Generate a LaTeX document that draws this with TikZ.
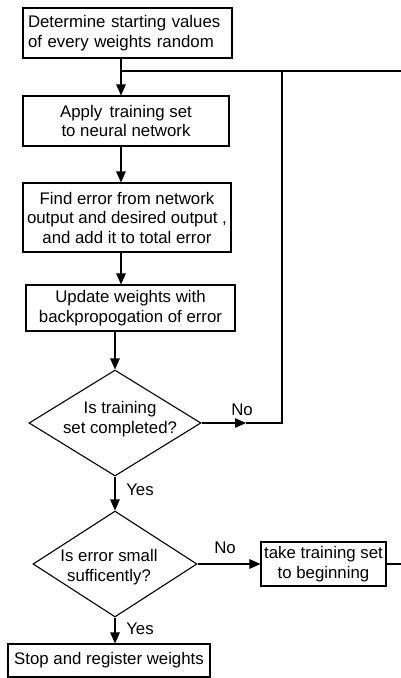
\documentclass[tikz,border=0pt]{standalone}
\usepackage{fontspec}
\setmainfont{Liberation Sans}
\usetikzlibrary{shapes.geometric,arrows.meta}
\begin{document}
\begin{tikzpicture}[x=1pt,y=-1pt,
  every node/.style={font=\fontsize{16.8}{19.5}\selectfont},
  box/.style={draw, line width=1.1pt, inner sep=2pt, align=center},
  dia/.style={draw, diamond, line width=1.1pt, inner sep=0pt},
  con/.style={line width=1.1pt},
  arr/.style={con, -{Triangle[length=11pt,width=9.5pt]}},
  lbl/.style={inner sep=0pt}]
\useasboundingbox (0,0) rectangle (400,678);
\fill[white] (0,0) rectangle (400,678);

% boxes
\node[box, minimum width=209pt, minimum height=50pt, text width=199pt, align=left, inner xsep=5pt] (b1) at (127.5,33)
  {Determine starting values\\of every weights random};
\node[box, minimum width=206pt, minimum height=50pt] (b2) at (126,121)
  {Apply\, training set\\to neural network};
\node[box, minimum width=208pt, minimum height=69pt] (b3) at (127,217.5)
  {Find error from network\\output and desired output ,\\and add it to total error};
\node[box, minimum width=209pt, minimum height=46pt] (b4) at (130.5,308)
  {Update weights with\\backpropogation of error};

% decisions
\node[dia, minimum width=172pt, minimum height=106pt] (d1) at (115,423) {};
\node[lbl, align=center] (t1) at (120,419) {Is training\\set completed?};
\node[dia, minimum width=164pt, minimum height=106pt] (d2) at (115,564) {};
\node[lbl, align=center] (t2) at (109,567) {Is error small\\sufficently?};

\node[box, minimum width=125pt, minimum height=44pt, inner sep=1pt] (tk) at (323.5,564)
  {take training set\\to beginning};
\node[box, minimum width=202pt, minimum height=33pt] (st) at (109,660.5)
  {Stop and register weights};

% labels
\node[lbl] (no1) at (242,410) {No};
\node[lbl] (yes1) at (140,490) {Yes};
\node[lbl] (no2) at (225,548) {No};
\node[lbl] (yes2) at (140,629) {Yes};

% connectors
\coordinate (J) at (121,71);
\coordinate (A1) at (246,423);
\coordinate (R1) at (282,423);
\coordinate (E1) at (410,71);
\coordinate (E2) at (410,564);

\draw[con] (b1.south -| J) -- (J);
\draw[arr] (J) -- (J |- b2.north);
\draw[con] (J) -- (E1);
\draw[arr] (b2.south -| J) -- (J |- b3.north);
\draw[arr] (b3.south -| J) -- (J |- b4.north);
\draw[arr] (b4.south -| d1.north) -- (d1.north);
\draw[arr] (d1.east) -- (A1);
\draw[con] (A1) -- (R1) |- (J);
\draw[arr] (d1.south) -- (d2.north);
\draw[arr] (d2.east) -- (d2.east -| tk.west);
\draw[con] (tk.east) -- (E2) -- (E1);
\draw[arr] (d2.south) -- (d2.south |- st.north);
\end{tikzpicture}
\end{document}
